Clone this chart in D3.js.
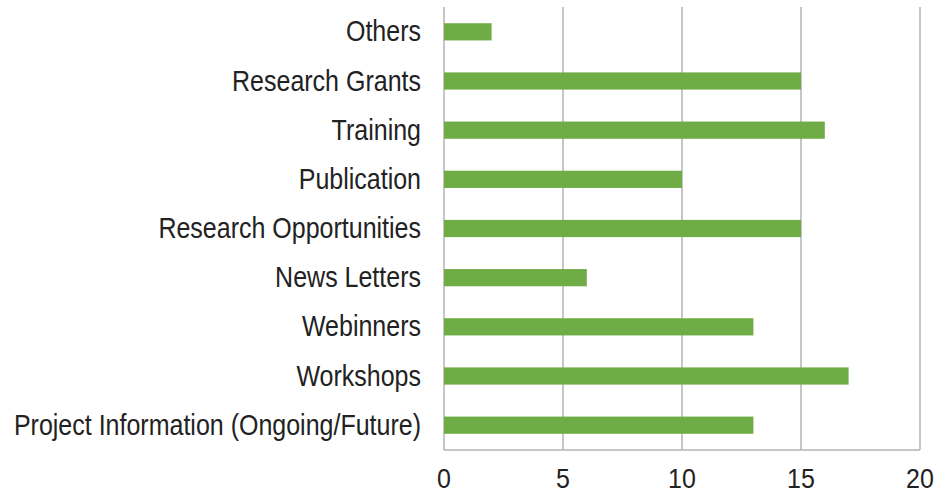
<!DOCTYPE html>
<html>
<head>
<meta charset="utf-8">
<script src="https://cdn.jsdelivr.net/npm/d3@7"></script>
<style>
  html, body { margin: 0; padding: 0; background: #fff; }
  svg { display: block; }
</style>
</head>
<body>
<svg id="chart" width="938" height="495"></svg>
<script>
// Categories listed top to bottom
const categories = [
  "Others",
  "Research Grants",
  "Training",
  "Publication",
  "Research Opportunities",
  "News Letters",
  "Webinners",
  "Workshops",
  "Project Information (Ongoing/Future)"
];
const counts = [2, 15, 16, 10, 15, 6, 13, 17, 13];
const xTicks = [0, 5, 10, 15, 20];

const svg = d3.select("#chart");
const margin = { top: 7, right: 18, bottom: 45, left: 444 };
const width = 938 - margin.left - margin.right;
const height = 495 - margin.top - margin.bottom;

const g = svg.append("g").attr("transform", `translate(${margin.left},${margin.top})`);

const x = d3.scaleLinear().domain([0, 20]).range([0, width]);
const y = d3.scaleBand().domain(categories).range([0, height]).paddingInner(0.65).paddingOuter(0.33);

const font = "'Liberation Sans', Arial, sans-serif";
const fontSize = 25;
const stretchY = 1.15;

// vertical gridlines
g.append("g")
  .selectAll("line")
  .data(xTicks)
  .join("line")
  .attr("x1", d => x(d)).attr("x2", d => x(d))
  .attr("y1", 0).attr("y2", height)
  .attr("stroke", "#b3b3b3")
  .attr("stroke-width", 1.5);

// baseline along the bottom
g.append("line")
  .attr("x1", 0).attr("x2", width)
  .attr("y1", height).attr("y2", height)
  .attr("stroke", "#b3b3b3")
  .attr("stroke-width", 1.5);

// bars
g.append("g")
  .selectAll("rect")
  .data(categories.map((c, i) => ({ c, v: counts[i] })))
  .join("rect")
  .attr("x", x(0))
  .attr("y", d => y(d.c))
  .attr("width", d => x(d.v) - x(0))
  .attr("height", y.bandwidth())
  .attr("fill", "#6fac45");

// x tick labels (slightly tall lettering)
g.append("g")
  .selectAll("text")
  .data(xTicks)
  .join("text")
  .attr("transform", d => `translate(${x(d)},${height + 29}) scale(1,1.1)`)
  .attr("text-anchor", "middle")
  .attr("dominant-baseline", "central")
  .attr("font-family", font)
  .attr("font-size", fontSize)
  .attr("fill", "#222")
  .text(d => d);

// category labels
g.append("g")
  .selectAll("text")
  .data(categories)
  .join("text")
  .attr("transform", d => `translate(-23,${y(d) + y.bandwidth() / 2}) scale(1,${stretchY})`)
  .attr("text-anchor", "end")
  .attr("dominant-baseline", "central")
  .attr("font-family", font)
  .attr("font-size", fontSize)
  .attr("fill", "#222")
  .text(d => d);
</script>
</body>
</html>
